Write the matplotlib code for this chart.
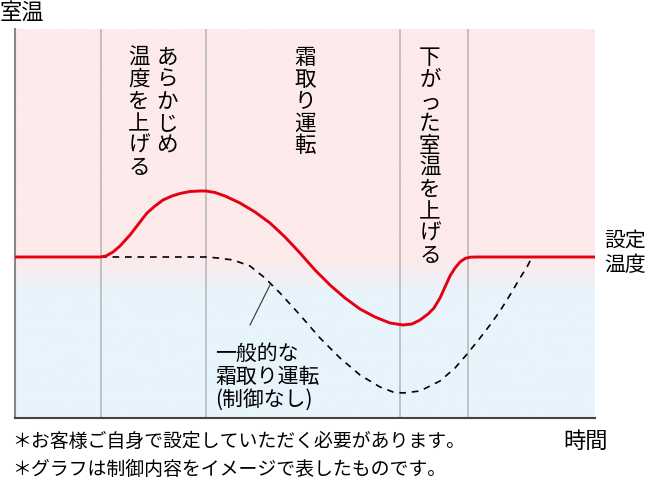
import numpy as np
import matplotlib.pyplot as plt

plt.rcParams['font.family'] = ['Noto Sans CJK JP', 'DejaVu Sans']

# -------------------------------
# Data (time / room temperature, arbitrary units)
# -------------------------------
red_time = [0, 85, 91, 98, 105, 115, 125, 132, 140, 148,
            157, 165, 175, 185, 191, 200, 210, 225, 240, 255,
            270, 285, 300, 315, 330, 345, 360, 375, 388, 397,
            405, 413, 419, 425, 430, 435, 440, 445, 450, 455,
            461, 580]
red_temp = [161, 161, 162, 166, 172, 183, 196, 205, 212, 218,
            222, 224.5, 226.5, 227, 227, 225.5, 222, 215, 206, 195,
            181, 165, 148, 133, 120, 109, 101, 95, 93, 94,
            98, 104, 110, 120, 131, 142, 150, 156, 159.5, 160.8,
            161, 161]

dash_time = [85, 135, 191, 203, 218, 235, 250, 265, 285, 305,
             325, 345, 365, 378, 388, 405, 425, 440, 453, 465,
             475, 485, 495, 505, 512, 517]
dash_temp = [161, 161, 161, 160, 158, 152, 140, 125, 103, 80,
             60, 43, 31, 26, 25, 27, 37, 50, 65, 80,
             93, 107, 123, 140, 151, 161]

phase_edges = [86, 191, 385, 453]
phase_labels = ["あらかじめ", "温度を上げる", "霜取り運転", "下がった室温を上げる"]
phase_label_x = [152, 124, 290, 415]

set_temp = 161

# -------------------------------
# Figure
# -------------------------------
fig = plt.figure(figsize=(6.5, 4.8), dpi=100)
ax = fig.add_axes([15 / 650, 62 / 480, 580 / 650, 389 / 480])
ax.set_xlim(0, 580)
ax.set_ylim(0, 389)

# background: pink above the set temperature, light blue below
pink = np.array([253, 234, 235]) / 255
blue = np.array([232, 244, 252]) / 255
ys = np.linspace(0, 389, 400)
t = np.clip((ys - 123) / (set_temp - 1 - 123), 0, 1)[:, None]
grad = blue * (1 - t) + pink * t
ax.imshow(grad[:, None, :], extent=[0, 580, 0, 389], origin='lower',
          aspect='auto', zorder=0)

for x in phase_edges:
    ax.axvline(x, color='#b4b4b4', lw=1.1, zorder=1)

ax.plot(dash_time, dash_temp, color='black', lw=1.2, dashes=(4, 3.5), zorder=2)
ax.plot(red_time, red_temp, color='#e60012', lw=2.1, zorder=3,
        solid_joinstyle='round', solid_capstyle='round')

# pointer to the dashed curve
ax.plot([255, 235], [133, 93], color='#333333', lw=0.8, zorder=3)

# vertical phase labels
for lbl, x in zip(phase_labels, phase_label_x):
    ax.text(x, 371, "\n".join(lbl), ha='center', va='top', fontsize=15.5,
            linespacing=1.0, zorder=4)

ax.text(200, 75, "一般的な\n霜取り運転\n(制御なし)", ha='left', va='top',
        fontsize=15, linespacing=1.05, zorder=4)

for s in ['top', 'right']:
    ax.spines[s].set_visible(False)
ax.spines['left'].set_color('#888888')
ax.spines['left'].set_linewidth(1.5)
ax.spines['bottom'].set_color('#444444')
ax.spines['bottom'].set_linewidth(1.5)
ax.set_xticks([])
ax.set_yticks([])

# labels outside the plot
fig.text(0 / 650, 1 - 1 / 480, "室温", fontsize=16, ha='left', va='top')
fig.text(604 / 650, 1 - 230 / 480, "設定\n温度", fontsize=15, ha='left',
         va='top', linespacing=1.1)
fig.text(563 / 650, 1 - 430 / 480, "時間", fontsize=16, ha='left', va='top')
fig.text(12 / 650, 1 - 431 / 480, "＊お客様ご自身で設定していただく必要があります。",
         fontsize=13.6, ha='left', va='top')
fig.text(12 / 650, 1 - 459 / 480, "＊グラフは制御内容をイメージで表したものです。",
         fontsize=13.6, ha='left', va='top')

fig.savefig("out.png", dpi=100)
